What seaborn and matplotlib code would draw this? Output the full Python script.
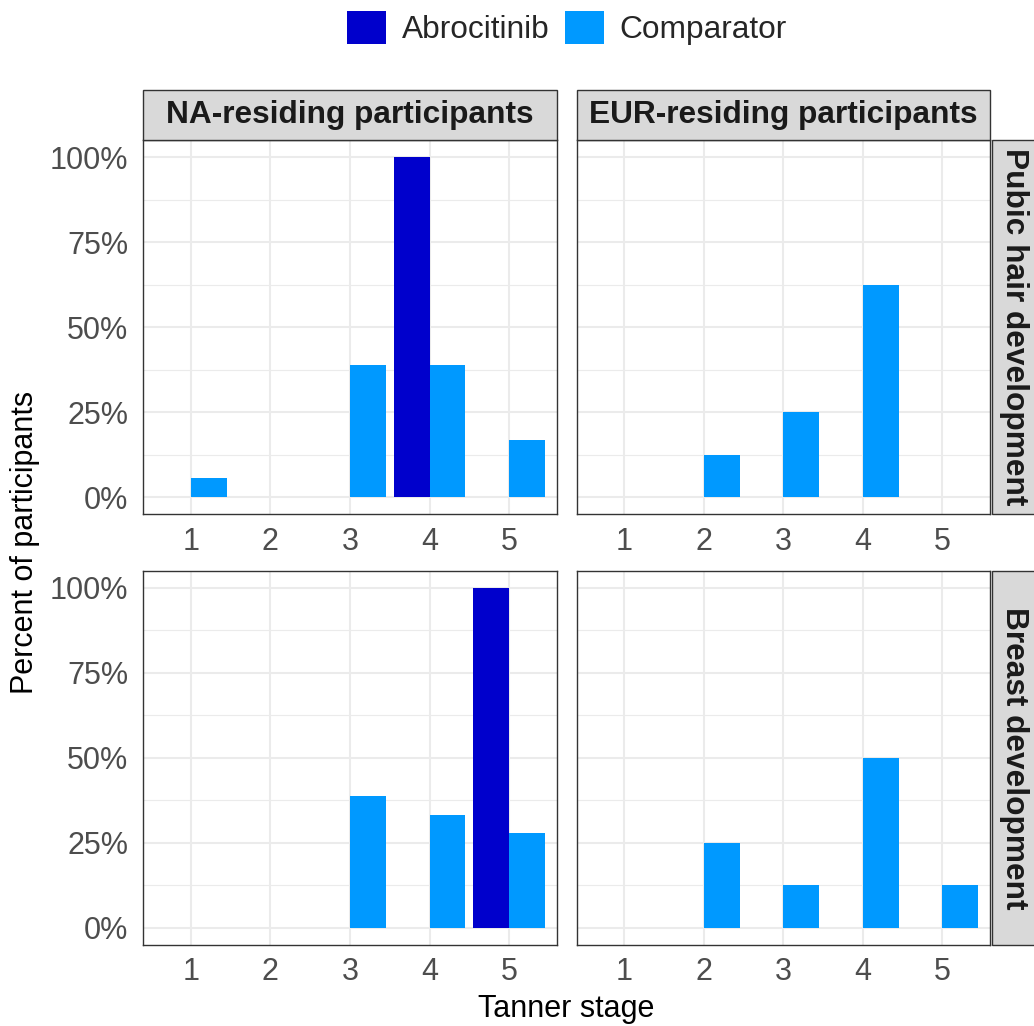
import matplotlib
matplotlib.use("Agg")
import matplotlib.pyplot as plt
import seaborn as sns
import pandas as pd
from matplotlib.patches import Patch, Rectangle

# ---------------- data ----------------
stages = [1, 2, 3, 4, 5]
groups = ["Abrocitinib", "Comparator"]
group_colors = ["#0000CC", "#0099FF"]
regions = ["NA-residing participants", "EUR-residing participants"]
developments = ["Pubic hair development", "Breast development"]

na_pubic_abro = [0, 0, 0, 100, 0]
na_pubic_comp = [5.6, 0, 38.9, 38.9, 16.7]
eur_pubic_abro = [0, 0, 0, 0, 0]
eur_pubic_comp = [0, 12.5, 25.0, 62.5, 0]
na_breast_abro = [0, 0, 0, 0, 100]
na_breast_comp = [0, 0, 38.9, 33.3, 27.8]
eur_breast_abro = [0, 0, 0, 0, 0]
eur_breast_comp = [0, 25.0, 12.5, 50.0, 12.5]

y_ticks = [0, 25, 50, 75, 100]
y_tick_labels = ["0%", "25%", "50%", "75%", "100%"]
y_minor = [12.5, 37.5, 62.5, 87.5]

series = {
    (regions[0], developments[0]): (na_pubic_abro, na_pubic_comp),
    (regions[1], developments[0]): (eur_pubic_abro, eur_pubic_comp),
    (regions[0], developments[1]): (na_breast_abro, na_breast_comp),
    (regions[1], developments[1]): (eur_breast_abro, eur_breast_comp),
}
rows_ = []
for (reg, dev), (abro, comp) in series.items():
    for g, vals in zip(groups, (abro, comp)):
        for s, v in zip(stages, vals):
            rows_.append({"region": reg, "development": dev, "group": g, "stage": s, "pct": v})
df = pd.DataFrame(rows_)

# ---------------- style ----------------
sns.set_style("white")
plt.rcParams['font.family'] = ['Liberation Sans', 'DejaVu Sans']

W, H = 1034, 1026
fig = plt.figure(figsize=(W / 100, H / 100), dpi=100)


def rect(l, t, r, b):
    return [l / W, 1 - b / H, (r - l) / W, (b - t) / H]


col_px = [(143, 557), (576.5, 990)]
row_px = [(140, 514.3), (570.7, 945)]
dark = "#333333"
fs = 22
strip_fs = 22.8
leg_fs = 22.8

for ri, dev in enumerate(developments):
    for ci, reg in enumerate(regions):
        l, r = col_px[ci]
        t, b = row_px[ri]
        ax = fig.add_axes(rect(l, t, r, b))
        sub = df[(df.region == reg) & (df.development == dev)]
        sns.barplot(data=sub, x="stage", y="pct", hue="group", order=stages,
                    hue_order=groups, palette=group_colors, width=0.9, dodge=True,
                    saturation=1, errorbar=None, linewidth=0, legend=False, ax=ax)
        ax.set_xlim(-0.6, 4.6)
        ax.set_ylim(-5, 105)
        ax.set_xticks(range(len(stages)))
        ax.set_xticklabels([str(s) for s in stages])
        ax.set_yticks(y_ticks)
        ax.set_yticks(y_minor, minor=True)
        if ci == 0:
            ax.set_yticklabels(y_tick_labels)
        else:
            ax.set_yticklabels([])
        ax.set_axisbelow(True)
        ax.grid(which="major", axis="both", color="#EBEBEB", lw=1.5)
        ax.grid(which="minor", axis="y", color="#EBEBEB", lw=0.8)
        ax.tick_params(which="minor", length=0)
        ax.tick_params(which="major", length=5, width=1.0, color=dark,
                       labelsize=fs, labelcolor="#4D4D4D", pad=4)
        ax.tick_params(axis="y", pad=5.5)
        ax.set_xlabel("")
        ax.set_ylabel("")
        for sp in ax.spines.values():
            sp.set_color(dark)
            sp.set_linewidth(1.0)
            sp.set_visible(True)

        # top strips
        if ri == 0:
            fig.add_artist(Rectangle((l / W, 1 - t / H), (r - l) / W, (t - 89.5) / H,
                                     transform=fig.transFigure, fc="#D9D9D9",
                                     ec=dark, lw=1.0))
            fig.text((l + r) / 2 / W, 1 - (t + 89.5) / 2 / H, reg, ha="center",
                     va="center", fontsize=strip_fs, fontweight="bold", color="#1A1A1A")
        # right strips
        if ci == 1:
            fig.add_artist(Rectangle((991.5 / W, 1 - b / H), 52 / W, (b - t) / H,
                                     transform=fig.transFigure, fc="#D9D9D9",
                                     ec=dark, lw=1.0))
            fig.text(1014 / W, 1 - (t + b) / 2 / H, dev, ha="center", va="center",
                     rotation=-90, fontsize=strip_fs, fontweight="bold", color="#1A1A1A")

# axis titles
fig.text(25.5 / W, 1 - 542.5 / H, "Percent of participants", rotation=90,
         ha="center", va="center", fontsize=fs, color="black")
fig.text(566.5 / W, 1 - 1016.7 / H, "Tanner stage", ha="center", va="baseline",
         fontsize=fs, color="black")

# legend
handles = [Patch(facecolor=c, edgecolor="none", label=g) for g, c in zip(groups, group_colors)]
fig.legend(handles=handles, loc="center", bbox_to_anchor=(567 / W, 1 - 28 / H),
           ncol=2, frameon=False, fontsize=leg_fs, handlelength=1.22, handleheight=1.2,
           handletextpad=0.5, columnspacing=0.5, borderpad=0, borderaxespad=0)

fig.savefig("out.png", dpi=100)
